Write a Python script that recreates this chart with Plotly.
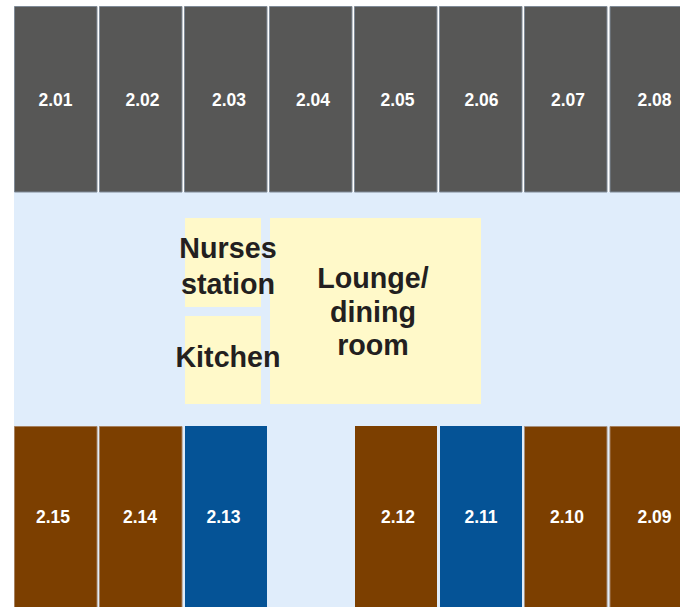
"""Ward floor plan drawn on a pixel-sized data grid."""

import plotly.graph_objects as go

WIDTH = 680
HEIGHT = 607

# rooms along the top corridor wall
top_rooms = ["2.01", "2.02", "2.03", "2.04", "2.05", "2.06", "2.07", "2.08"]
top_left = [14.5, 99.5, 184.5, 269.5, 354.5, 439.5, 524.5, 610]
top_right = [97, 182, 267, 352, 437, 522, 607, 690]
top_label_x = [55.5, 142.5, 229, 313, 397.5, 481.5, 568, 654.5]

# rooms along the bottom wall
bottom_rooms = ["2.15", "2.14", "2.13", "2.12", "2.11", "2.10", "2.09"]
bottom_left = [14.5, 99.5, 185, 355, 440, 524.5, 610]
bottom_right = [97, 182, 267, 437, 522, 607, 690]
bottom_label_x = [53, 140, 223.5, 398, 481, 567, 654.5]
bottom_colors = ["#7c3f00", "#7c3f00", "#055396", "#7c3f00", "#055396", "#7c3f00", "#7c3f00"]
bottom_outline = ["#a5805f", "#a5805f", None, None, None, "#a5907f", "#a5805f"]

# central shared spaces
shared_left = [185, 185, 270]
shared_right = [261, 261, 481]
shared_top = [218, 316, 218]
shared_bottom = [307, 404, 404]

shared_lines = ["Nurses", "station", "Kitchen", "Lounge/", "dining", "room"]
shared_line_x = [228, 228, 228, 373, 373, 373]
shared_line_y = [251, 287, 360, 281, 315, 348]

GREY = "#575756"
GREY_EDGE = "#7f8a96"
FLOOR = "#e0edfb"
YELLOW = "#fff9c9"
INK = "#231f20"
FONT = "Liberation Sans"

fig = go.Figure()

# corridor floor
fig.add_shape(type="rect", x0=14, x1=690, y0=192, y1=620,
              fillcolor=FLOOR, line_width=0, layer="below")

for x0, x1 in zip(top_left, top_right):
    fig.add_shape(type="rect", x0=x0, x1=x1, y0=6.5, y1=192,
                  fillcolor=GREY, line=dict(color=GREY_EDGE, width=1), layer="below")

for x0, x1, c, edge in zip(bottom_left, bottom_right, bottom_colors, bottom_outline):
    fig.add_shape(type="rect", x0=x0, x1=x1, y0=426.5 if edge else 426, y1=620, fillcolor=c,
                  line=dict(color=edge, width=1) if edge else dict(width=0), layer="below")

for x0, x1, y0, y1 in zip(shared_left, shared_right, shared_top, shared_bottom):
    fig.add_shape(type="rect", x0=x0, x1=x1, y0=y0, y1=y1,
                  fillcolor=YELLOW, line_width=0, layer="below")

fig.add_trace(go.Scatter(
    x=top_label_x, y=[101.5] * len(top_rooms), mode="text", text=top_rooms,
    textfont=dict(family=FONT, size=17.5, color="white", weight="bold"),
    textposition="middle center", hoverinfo="skip",
))
fig.add_trace(go.Scatter(
    x=bottom_label_x, y=[518.5] * len(bottom_rooms), mode="text", text=bottom_rooms,
    textfont=dict(family=FONT, size=17.5, color="white", weight="bold"),
    textposition="middle center", hoverinfo="skip",
))
fig.add_trace(go.Scatter(
    x=shared_line_x, y=shared_line_y, mode="text", text=shared_lines,
    textfont=dict(family=FONT, size=28.7, color=INK, weight="bold"),
    textposition="middle center", hoverinfo="skip",
))

fig.update_xaxes(range=[0, WIDTH], visible=False, fixedrange=True)
fig.update_yaxes(range=[HEIGHT, 0], visible=False, fixedrange=True)
fig.update_layout(
    width=WIDTH, height=HEIGHT,
    margin=dict(l=0, r=0, t=0, b=0),
    paper_bgcolor="white", plot_bgcolor="white",
    showlegend=False,
)
# the browser's default body margin would push the plot off the window
fig.write_html("out.html", config=dict(displayModeBar=False),
               post_script="document.body.style.margin='0';")
